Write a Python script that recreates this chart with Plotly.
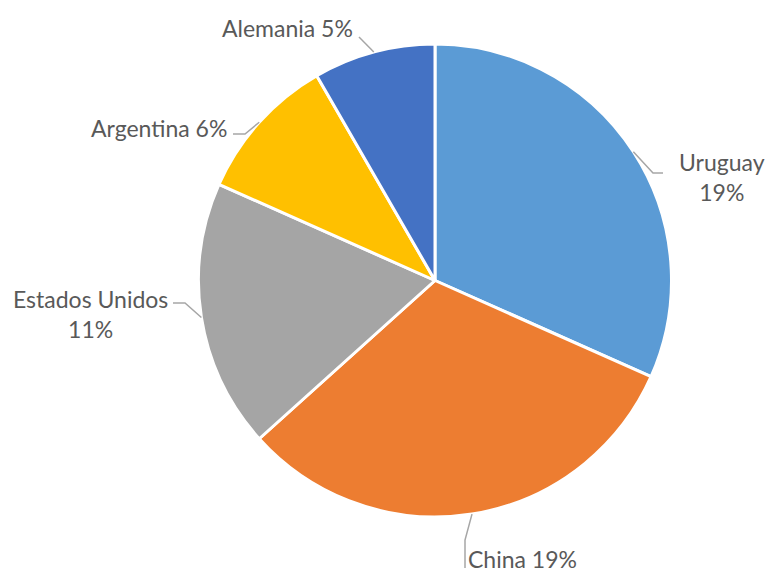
import math
import plotly.graph_objects as go

paises = ["Uruguay", "China", "Estados Unidos", "Argentina", "Alemania"]
porcentajes = [19, 19, 11, 6, 5]
etiquetas = ["Uruguay<br>19%", "China 19%", "Estados Unidos<br>11%", "Argentina 6%", "Alemania 5%"]
colores = ["#5B9BD5", "#ED7D31", "#A5A5A5", "#FFC000", "#4472C4"]

W, H = 771, 575
M = dict(l=99, r=0, t=44, b=58)

# label placement (pixels): elbow of the leader, end of leader, text anchor, xanchor
colocacion = [
    dict(codo=(653, 173), fin=(663, 173), texto=(767, 177), lado="right"),
    dict(codo=(465, 540), fin=(465, 568), texto=(466, 559), lado="left"),
    dict(codo=(185, 303), fin=(173, 303), texto=(170, 314), lado="right"),
    dict(codo=(245, 134), fin=(233, 134), texto=(229, 128), lado="right"),
    dict(codo=(359, 37), fin=(359, 37), texto=(355, 28), lado="right"),
]

pw = W - M["l"] - M["r"]
ph = H - M["t"] - M["b"]
cx = M["l"] + pw / 2
cy = M["t"] + ph / 2
R = min(pw, ph) / 2


def fig_xy(x, y):
    return (x - M["l"]) / pw, 1 - (y - M["t"]) / ph


fig = go.Figure(go.Pie(
    labels=paises,
    values=porcentajes,
    textinfo="none",
    sort=False,
    direction="clockwise",
    rotation=0,
    marker=dict(colors=colores, line=dict(color="white", width=3)),
    showlegend=False,
    hoverinfo="label+percent",
))

total = sum(porcentajes)
acum = 0
for valor, texto, c in zip(porcentajes, etiquetas, colocacion):
    medio = (acum + valor / 2) / total * 2 * math.pi
    acum += valor
    p0 = fig_xy(cx + R * math.sin(medio), cy - R * math.cos(medio))
    p1 = fig_xy(*c["codo"])
    p2 = fig_xy(*c["fin"])
    fig.add_shape(
        type="path", xref="paper", yref="paper",
        path=f"M {p0[0]},{p0[1]} L {p1[0]},{p1[1]} L {p2[0]},{p2[1]}",
        line=dict(color="#A6A6A6", width=1.5),
    )
    tx, ty = fig_xy(*c["texto"])
    fig.add_annotation(
        x=tx, y=ty, xref="paper", yref="paper",
        text=texto, showarrow=False, xanchor=c["lado"], yanchor="middle",
        align="center",
        font=dict(family="Lato, Open Sans, sans-serif", size=23, color="#595959"),
    )

fig.update_layout(
    width=W, height=H,
    margin=M,
    paper_bgcolor="white",
)

# drop the page's default body margin so the figure fills the window
fig.write_html(
    "out.html",
    config={"displayModeBar": False},
    post_script="document.body.style.margin='0';document.body.style.overflow='hidden';",
)
